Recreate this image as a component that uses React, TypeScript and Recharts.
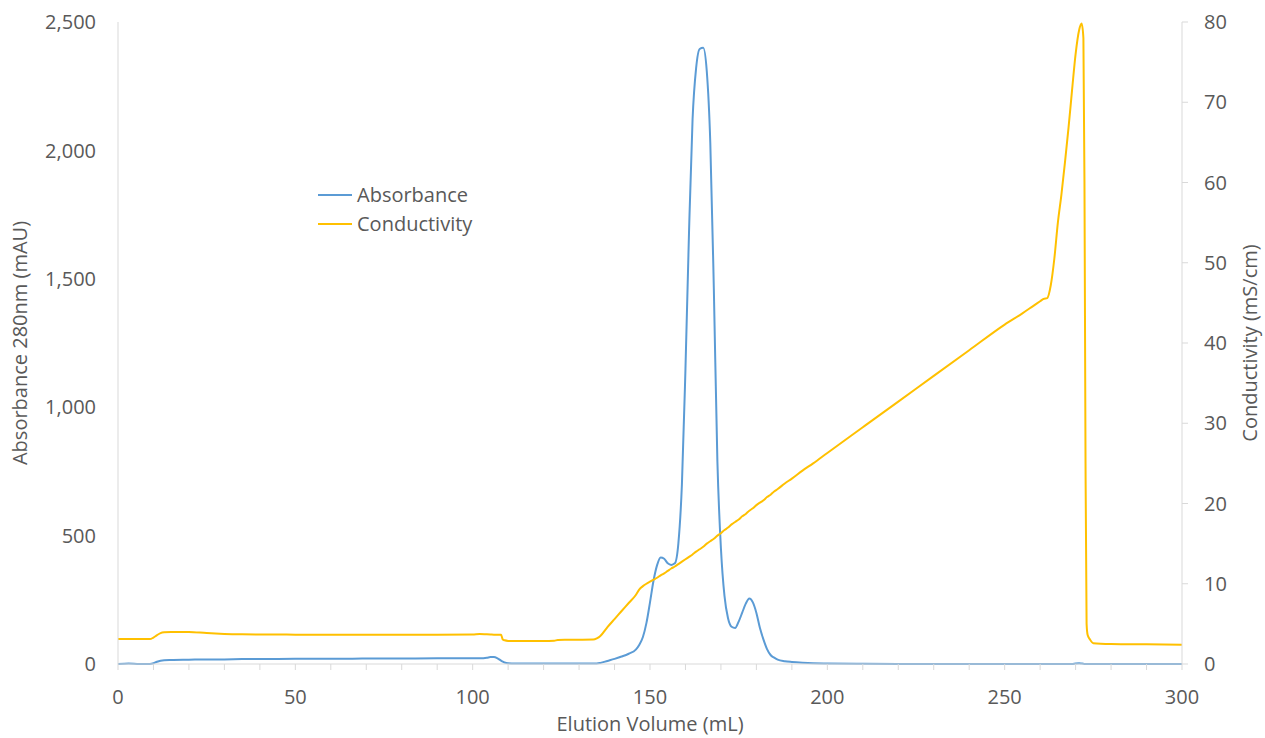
import { LineChart, Line, XAxis, YAxis } from 'recharts';

const volume = [
  0, 3, 6, 9, 10, 11, 12, 13, 15, 20, 25, 30, 35, 40, 50, 60, 70, 80, 90, 100,
  102, 104, 105, 106, 107, 108, 108.5, 109, 110, 112, 115, 120, 123, 124, 130, 134, 135, 136, 138, 140,
  142, 144, 146, 147, 148, 149, 150, 151, 152, 153, 154, 155, 156, 157, 158, 159, 160, 161, 162, 163,
  164, 165, 166, 167, 168, 169, 170, 171, 172, 173, 174, 175, 176, 177, 178, 179, 180, 181, 182, 183,
  184, 185, 186, 188, 190, 193, 196, 200, 210, 220, 230, 240, 250, 255, 258, 260, 261, 262, 263, 264,
  265, 266, 267, 268, 269, 270, 271, 271.7, 272.2, 272.5, 272.8, 273.1, 273.4, 274, 275, 280, 290, 300,
];

const absorbance = [
  0, 2, 0, 0, 3, 9, 13, 15, 16, 17, 18, 18, 19, 19, 20, 20, 21, 21, 22, 22,
  22, 24, 27, 27, 22, 13, 9, 6, 3, 2, 2, 2, 2, 2, 2, 2, 2, 4, 12, 20,
  29, 40, 56, 75, 105, 160, 240, 325, 385, 415, 410, 392, 386, 392, 470, 700, 1150, 1680, 2120, 2320,
  2395, 2400, 2310, 2030, 1460, 790, 450, 265, 178, 145, 140, 165, 200, 235, 255, 240, 199, 140, 95, 58,
  35, 25, 17, 11, 8, 5, 3, 2, 1, 0, 0, 0, 0, 0, 0, 0, 0, 0, 0, 0,
  0, 0, 0, 0, 0, 2, 3, 2, 1, 0, 0, 0, 0, 0, 0, 0, 0, 0,
];

const conductivity = [
  3.1, 3.1, 3.1, 3.1, 3.3, 3.6, 3.85, 3.95, 4.0, 4.0, 3.85, 3.75, 3.7, 3.68, 3.66, 3.65, 3.65, 3.65, 3.65, 3.68,
  3.74, 3.7, 3.68, 3.66, 3.66, 3.64, 3.05, 2.95, 2.88, 2.87, 2.87, 2.87, 2.9, 3.0, 3.02, 3.05, 3.2, 3.5, 4.6, 5.6,
  6.6, 7.6, 8.6, 9.3, 9.7, 10.0, 10.25, 10.5, 10.75, 11.05, 11.3, 11.6, 11.9, 12.15, 12.45, 12.75, 13.05, 13.35, 13.65, 14.0,
  14.3, 14.6, 15.0, 15.3, 15.6, 16.0, 16.3, 16.7, 17.0, 17.4, 17.7, 18.0, 18.4, 18.7, 19.1, 19.4, 19.8, 20.1, 20.4, 20.8,
  21.1, 21.5, 21.8, 22.5, 23.1, 24.1, 25.0, 26.3, 29.5, 32.7, 35.9, 39.1, 42.3, 43.7, 44.6, 45.2, 45.5, 45.6, 47.2, 50.5,
  55.0, 58.5, 62.5, 66.8, 71.5, 76.0, 79.0, 79.8, 78.0, 60, 25, 5, 3.6, 3.1, 2.6, 2.5, 2.45, 2.4,
];

const volumeTicks = [
  0, 10, 20, 30, 40, 50, 60, 70, 80, 90, 100, 110, 120, 130, 140, 150,
  160, 170, 180, 190, 200, 210, 220, 230, 240, 250, 260, 270, 280, 290, 300,
];
const absorbanceTicks = [0, 500, 1000, 1500, 2000, 2500];
const conductivityTicks = [0, 10, 20, 30, 40, 50, 60, 70, 80];

const seriesNames = ['Absorbance', 'Conductivity'];
const seriesColors = ['#5B9BD5', '#FFC000'];

const data = volume.map((v, i) => ({
  volume: v,
  absorbance: absorbance[i],
  conductivity: conductivity[i],
}));

const font = '"Open Sans", sans-serif';
const textColor = '#595959';
const axisColor = '#d9d9d9';
const tickStyle = { fill: textColor, fontSize: 20, fontFamily: font };
const labelStyle = { fill: textColor, fontSize: 20, fontFamily: font, textAnchor: 'middle' as const };

export default function App() {
  return (
    <div style={{ position: 'absolute', left: 0, top: 0, width: 1265, height: 738, background: '#fff' }}>
      <LineChart width={1265} height={738} data={data} margin={{ top: 22, right: 0, bottom: 0, left: 0 }}>
        <XAxis
          dataKey="volume"
          type="number"
          domain={[0, 300]}
          ticks={volumeTicks}
          interval={0}
          tickFormatter={(v: number) => (v % 50 === 0 ? String(v) : '')}
          stroke={axisColor}
          tickLine={{ stroke: axisColor }}
          tickSize={6}
          tickMargin={20}
          tick={tickStyle}
          height={74}
          label={{ value: 'Elution Volume (mL)', position: 'insideBottom', offset: 7, style: labelStyle }}
        />
        <YAxis
          yAxisId="abs"
          domain={[0, 2500]}
          ticks={absorbanceTicks}
          interval={0}
          tickFormatter={(v: number) => v.toLocaleString('en-US')}
          stroke={axisColor}
          tickLine={false}
          tickSize={0}
          tickMargin={22}
          tick={tickStyle}
          width={118}
          label={{ value: 'Absorbance 280nm (mAU)', angle: -90, position: 'insideLeft', offset: 20, style: labelStyle }}
        />
        <YAxis
          yAxisId="cond"
          orientation="right"
          domain={[0, 80]}
          ticks={conductivityTicks}
          interval={0}
          stroke={axisColor}
          tickLine={{ stroke: axisColor }}
          tickSize={6}
          tickMargin={16}
          tick={tickStyle}
          width={83}
          label={{ value: 'Conductivity (mS/cm)', angle: -90, position: 'insideRight', offset: 15, style: labelStyle }}
        />
        <Line
          yAxisId="abs"
          type="monotone"
          dataKey="absorbance"
          name={seriesNames[0]}
          stroke={seriesColors[0]}
          strokeWidth={2}
          dot={false}
          isAnimationActive={false}
        />
        <Line
          yAxisId="cond"
          type="monotone"
          dataKey="conductivity"
          name={seriesNames[1]}
          stroke={seriesColors[1]}
          strokeWidth={2}
          dot={false}
          isAnimationActive={false}
        />
      </LineChart>
      <div style={{ position: 'absolute', left: 318, top: 180, fontFamily: font, fontSize: 20, color: textColor }}>
        {seriesNames.map((name, i) => (
          <div key={name} style={{ display: 'flex', alignItems: 'center', height: 29 }}>
            <span style={{ display: 'inline-block', width: 34, height: 2, background: seriesColors[i], marginRight: 5 }} />
            <span>{name}</span>
          </div>
        ))}
      </div>
    </div>
  );
}
